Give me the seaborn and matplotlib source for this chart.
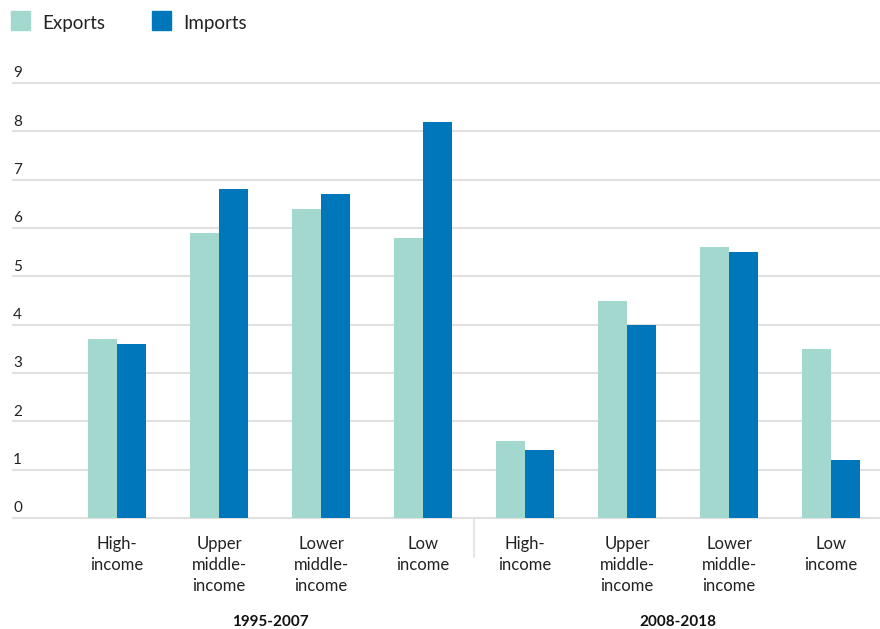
import matplotlib
matplotlib.use("Agg")
import matplotlib.pyplot as plt
import matplotlib.transforms as mtransforms
from matplotlib.patches import Rectangle
import seaborn as sns
import pandas as pd

categories = ["High-\nincome", "Upper\nmiddle-\nincome", "Lower\nmiddle-\nincome", "Low\nincome"]
periods = ["1995-2007", "2008-2018"]
exports_vals = [3.7, 5.9, 6.4, 5.8, 1.6, 4.5, 5.6, 3.5]
imports_vals = [3.6, 6.8, 6.7, 8.2, 1.4, 4.0, 5.5, 1.2]
series = ["Exports", "Imports"]
colors = ["#A3D8CF", "#0077BA"]
yticks = list(range(0, 10))

slots = [f"{p}|{c}" for p in periods for c in categories]
df = pd.DataFrame({
    "slot": slots * 2,
    "series": [series[0]] * len(slots) + [series[1]] * len(slots),
    "value": exports_vals + imports_vals,
})

sns.set_theme(style="white")
plt.rcParams["font.family"] = ["Lato", "DejaVu Sans"]

fig = plt.figure(figsize=(8.8, 6.29), dpi=100)
ax = fig.add_axes([13 / 880, 1 - 518 / 629, 1 - 13 / 880, (518 - 83) / 629])

sns.barplot(data=df, x="slot", y="value", hue="series", order=slots,
            hue_order=series, palette=colors, width=0.57, ax=ax,
            legend=False, saturation=1, linewidth=0)

ax.set_xlim(-1.02, 7.48)
ax.set_ylim(0, 9)
ax.set_yticks(yticks)
ax.set_yticklabels([])
ax.tick_params(axis="y", length=0)
ax.grid(axis="y", color="#E0E0E0", linewidth=1.5, zorder=0)
ax.set_axisbelow(True)
for s in ax.spines.values():
    s.set_visible(False)
for gl in ax.get_ygridlines():
    gl.set_clip_on(False)

# y labels above gridlines at left
trans = mtransforms.blended_transform_factory(ax.transAxes, ax.transData)
for t in yticks:
    ax.text(0.0, t, str(t), transform=trans, ha="left", va="bottom",
            fontsize=11, color="#222222").set_transform(
        trans + mtransforms.ScaledTranslation(0, 2 / 72, fig.dpi_scale_trans))

ax.set_xticks(range(len(slots)))
ax.set_xticklabels(categories * len(periods), fontsize=12, color="#222222",
                   va="top", linespacing=1.38)
ax.tick_params(axis="x", length=0, pad=13)
ax.set_xlabel("")
ax.set_ylabel("")

# period labels
btrans = mtransforms.blended_transform_factory(ax.transData, fig.transFigure)
for i, p in enumerate(periods):
    ax.text(1.5 + 4 * i, 1 - 622 / 629, p, transform=btrans, ha="center",
            va="center", fontsize=11, fontweight="bold", color="#111111")

# divider between periods
ax.plot([3.5, 3.5], [1 - 518 / 629, 1 - 557 / 629], transform=btrans,
        color="#E0E0E0", linewidth=1.2, clip_on=False)

# legend
for i, (name, col) in enumerate(zip(series, colors)):
    x0 = [11, 152][i]
    fig.patches.append(Rectangle((x0 / 880, 1 - 30 / 629), 19 / 880, 19 / 629,
                                 transform=fig.transFigure, color=col))
    fig.text((x0 + 31) / 880, 1 - 23 / 629, name, ha="left", va="center",
             fontsize=13.5, color="#222222")

fig.savefig("out.png", dpi=100)
